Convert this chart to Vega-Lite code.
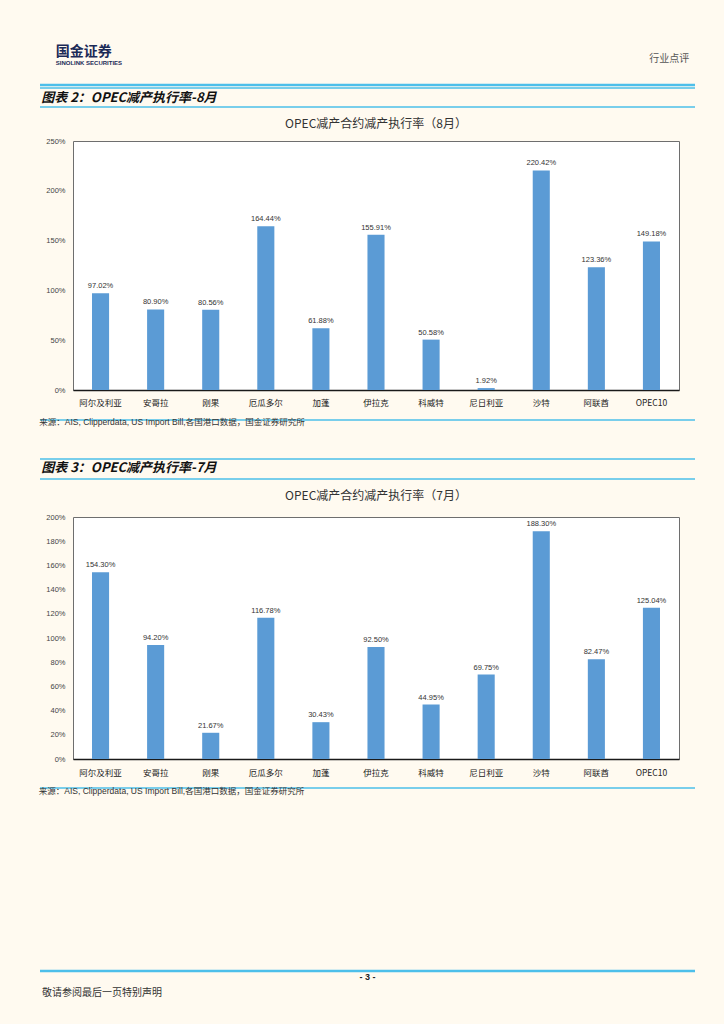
{
  "$schema": "https://vega.github.io/schema/vega-lite/v6.json",
  "background": "#fffaf0",
  "padding": {"left": 38, "top": 40, "right": 40, "bottom": 40},
  "datasets": {
    "aug": [
      {"country": "阿尔及利亚", "rate": 0.9702},
      {"country": "安哥拉", "rate": 0.8090},
      {"country": "刚果", "rate": 0.8056},
      {"country": "厄瓜多尔", "rate": 1.6444},
      {"country": "加蓬", "rate": 0.6188},
      {"country": "伊拉克", "rate": 1.5591},
      {"country": "科威特", "rate": 0.5058},
      {"country": "尼日利亚", "rate": 0.0192},
      {"country": "沙特", "rate": 2.2042},
      {"country": "阿联酋", "rate": 1.2336},
      {"country": "OPEC10", "rate": 1.4918}
    ],
    "jul": [
      {"country": "阿尔及利亚", "rate": 1.5430},
      {"country": "安哥拉", "rate": 0.9420},
      {"country": "刚果", "rate": 0.2167},
      {"country": "厄瓜多尔", "rate": 1.1678},
      {"country": "加蓬", "rate": 0.3043},
      {"country": "伊拉克", "rate": 0.9250},
      {"country": "科威特", "rate": 0.4495},
      {"country": "尼日利亚", "rate": 0.6975},
      {"country": "沙特", "rate": 1.8830},
      {"country": "阿联酋", "rate": 0.8247},
      {"country": "OPEC10", "rate": 1.2504}
    ],
    "blank": [{}]
  },
  "spacing": 0,
  "vconcat": [
    {
      "title": {"text": "国金证券", "subtitle": "SINOLINK SECURITIES", "anchor": "start", "dx": 17, "offset": -26, "fontSize": 14, "fontWeight": "bold", "color": "#1b2a57", "font": "Noto Sans CJK SC", "subtitleFont": "Liberation Sans", "subtitleFontSize": 6, "subtitleFontWeight": "bold", "subtitleColor": "#1b2a57", "subtitlePadding": 1},
      "vconcat": [
        {
          "width": 655, "height": 45,
          "title": {"text": "行业点评", "anchor": "end", "dx": -7, "offset": -24, "fontSize": 10, "fontWeight": "normal", "color": "#555555", "font": "Noto Sans CJK SC"},
          "data": {"name": "blank"},
          "mark": {"type": "rule", "color": "#4dbfea", "strokeWidth": 2.5},
          "encoding": {"y": {"datum": 0, "type": "quantitative", "scale": {"domain": [0, 1]}, "axis": null}}
        }
      ]
    },
    {
      "spacing": 9,
      "vconcat": [
        {
          "width": 655, "height": 19,
          "title": {"text": "图表 2：OPEC减产执行率-8月", "anchor": "start", "dx": 2, "offset": -18, "fontSize": 13, "fontWeight": "bold", "fontStyle": "italic", "color": "#111111", "font": "Noto Sans CJK SC"},
          "data": {"name": "blank"},
          "layer": [
            {"mark": {"type": "rule", "color": "#4dbfea", "strokeWidth": 1.5}, "encoding": {"y": {"datum": 1, "type": "quantitative", "scale": {"domain": [0, 1]}, "axis": null}}},
            {"mark": {"type": "rule", "color": "#4dbfea", "strokeWidth": 1.5}, "encoding": {"y": {"datum": 0, "type": "quantitative", "scale": {"domain": [0, 1]}, "axis": null}}}
          ]
        },
        {
          "spacing": 10,
          "vconcat": [
            {
              "spacing": 0,
              "hconcat": [
                {
                  "width": 1, "height": 1,
                  "data": {"name": "blank"},
                  "mark": {"type": "rule", "opacity": 0},
                  "encoding": {"y": {"datum": 0, "type": "quantitative", "axis": null}}
                },
                {
                  "width": 606, "height": 249,
                  "view": {"stroke": "#6e6e6e", "strokeWidth": 1, "fill": "#ffffff"},
                  "title": {"text": "OPEC减产合约减产执行率（8月）", "anchor": "middle", "offset": 6, "fontSize": 12, "fontWeight": "normal", "color": "#333333", "font": "Noto Sans CJK SC"},
                  "data": {"name": "aug"},
                  "encoding": {
                    "x": {"field": "country", "type": "nominal", "sort": null, "title": null,
                          "scale": {"paddingInner": 0.69, "paddingOuter": 0.345},
                          "axis": {"labelAngle": 0, "ticks": false, "domain": true, "domainColor": "#1a1a1a", "domainWidth": 1.5, "labelPadding": 8, "labelFont": "Noto Sans CJK SC", "labelFontSize": 8.5, "labelColor": "#222222"}},
                    "y": {"field": "rate", "type": "quantitative", "title": null,
                          "scale": {"domain": [0, 2.5]},
                          "axis": {"values": [0, 0.5, 1, 1.5, 2, 2.5], "format": ".0%", "grid": false, "ticks": false, "domain": false, "labelPadding": 8, "labelFont": "Liberation Sans", "labelFontSize": 7.5, "labelColor": "#444444", "minExtent": 31, "maxExtent": 31}}
                  },
                  "layer": [
                    {"mark": {"type": "bar", "color": "#5b9bd5"}},
                    {"mark": {"type": "text", "baseline": "bottom", "dy": -3, "font": "Liberation Sans", "fontSize": 7.5, "color": "#333333"},
                     "encoding": {"text": {"field": "rate", "type": "quantitative", "format": ".2%"}}}
                  ]
                }
              ]
            },
            {
              "width": 655, "height": 39,
              "title": {"text": "来源：AIS, Clipperdata, US Import Bill,各国港口数据，国金证券研究所", "anchor": "start", "dx": 0, "offset": -7, "fontSize": 8.5, "fontWeight": "normal", "color": "#333333", "font": "Liberation Sans, Noto Sans CJK SC"},
              "data": {"name": "blank"},
              "layer": [
                {"mark": {"type": "rule", "color": "#4dbfea", "strokeWidth": 1.5}, "encoding": {"y": {"datum": 1, "type": "quantitative", "scale": {"domain": [0, 1]}, "axis": null}}},
                {"mark": {"type": "rule", "color": "#4dbfea", "strokeWidth": 1.5}, "encoding": {"y": {"datum": 0, "type": "quantitative", "scale": {"domain": [0, 1]}, "axis": null}}}
              ]
            }
          ]
        }
      ]
    },
    {
      "spacing": 9,
      "vconcat": [
        {
          "width": 655, "height": 19,
          "title": {"text": "图表 3：OPEC减产执行率-7月", "anchor": "start", "dx": 2, "offset": -14.5, "fontSize": 13, "fontWeight": "bold", "fontStyle": "italic", "color": "#111111", "font": "Noto Sans CJK SC"},
          "data": {"name": "blank"},
          "mark": {"type": "rule", "color": "#4dbfea", "strokeWidth": 1.5},
          "encoding": {"y": {"datum": 0, "type": "quantitative", "scale": {"domain": [0, 1]}, "axis": null}}
        },
        {
          "spacing": 9,
          "vconcat": [
            {
              "spacing": 0,
              "hconcat": [
                {
                  "width": 1, "height": 1,
                  "data": {"name": "blank"},
                  "mark": {"type": "rule", "opacity": 0},
                  "encoding": {"y": {"datum": 0, "type": "quantitative", "axis": null}}
                },
                {
                  "width": 606, "height": 242,
                  "view": {"stroke": "#6e6e6e", "strokeWidth": 1, "fill": "#ffffff"},
                  "title": {"text": "OPEC减产合约减产执行率（7月）", "anchor": "middle", "offset": 10, "fontSize": 12, "fontWeight": "normal", "color": "#333333", "font": "Noto Sans CJK SC"},
                  "data": {"name": "jul"},
                  "encoding": {
                    "x": {"field": "country", "type": "nominal", "sort": null, "title": null,
                          "scale": {"paddingInner": 0.69, "paddingOuter": 0.345},
                          "axis": {"labelAngle": 0, "ticks": false, "domain": true, "domainColor": "#1a1a1a", "domainWidth": 1.5, "labelPadding": 9, "labelFont": "Noto Sans CJK SC", "labelFontSize": 8.5, "labelColor": "#222222"}},
                    "y": {"field": "rate", "type": "quantitative", "title": null,
                          "scale": {"domain": [0, 2]},
                          "axis": {"values": [0, 0.2, 0.4, 0.6, 0.8, 1, 1.2, 1.4, 1.6, 1.8, 2], "format": ".0%", "grid": false, "ticks": false, "domain": false, "labelPadding": 8, "labelFont": "Liberation Sans", "labelFontSize": 7.5, "labelColor": "#444444", "minExtent": 31, "maxExtent": 31}}
                  },
                  "layer": [
                    {"mark": {"type": "bar", "color": "#5b9bd5"}},
                    {"mark": {"type": "text", "baseline": "bottom", "dy": -3, "font": "Liberation Sans", "fontSize": 7.5, "color": "#333333"},
                     "encoding": {"text": {"field": "rate", "type": "quantitative", "format": ".2%"}}}
                  ]
                }
              ]
            },
            {
              "width": 655, "height": 183,
              "title": {"text": "来源：AIS, Clipperdata, US Import Bill,各国港口数据，国金证券研究所", "anchor": "start", "dx": 0, "offset": -8, "fontSize": 8.5, "fontWeight": "normal", "color": "#333333", "font": "Liberation Sans, Noto Sans CJK SC"},
              "data": {"name": "blank"},
              "layer": [
                {"mark": {"type": "rule", "color": "#4dbfea", "strokeWidth": 1.5}, "encoding": {"y": {"datum": 1, "type": "quantitative", "scale": {"domain": [0, 1]}, "axis": null}}},
                {"mark": {"type": "rule", "color": "#4dbfea", "strokeWidth": 2.5}, "encoding": {"y": {"datum": 0, "type": "quantitative", "scale": {"domain": [0, 1]}, "axis": null}}}
              ]
            }
          ]
        }
      ]
    },
    {
      "title": {"text": "- 3 -", "anchor": "middle", "offset": 6, "fontSize": 9, "fontWeight": "bold", "color": "#222222", "font": "Liberation Sans"},
      "vconcat": [
        {
          "width": 655, "height": 1,
          "title": {"text": "敬请参阅最后一页特别声明", "anchor": "start", "dx": 2, "offset": 0, "fontSize": 10, "fontWeight": "normal", "color": "#333333", "font": "Noto Sans CJK SC"},
          "data": {"name": "blank"},
          "mark": {"type": "rule", "opacity": 0},
          "encoding": {"y": {"datum": 0, "type": "quantitative", "scale": {"domain": [0, 1]}, "axis": null}}
        }
      ]
    }
  ],
  "config": {
    "view": {"stroke": null},
    "font": "Liberation Sans"
  }
}
